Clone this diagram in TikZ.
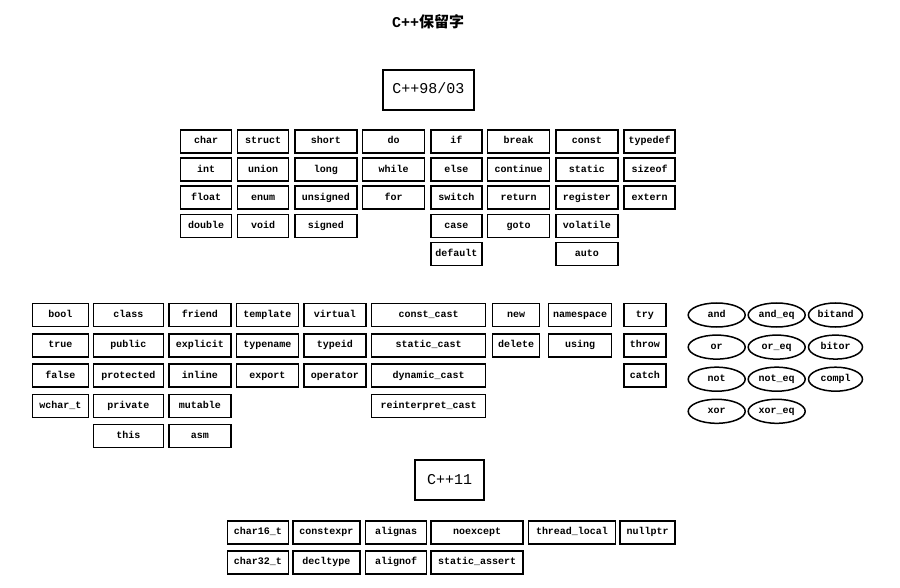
\documentclass[tikz,border=0pt]{standalone}
\usepackage{fontspec}
\usetikzlibrary{shapes.geometric}
\newfontfamily\kwfont{Liberation Mono}
\newfontfamily\cjk{Noto Sans CJK SC}

\tikzset{
  kwbox/.style={draw, line width=1.5pt, inner sep=0pt, minimum height=23pt,
    text height=7pt, text depth=2pt,
    font=\kwfont\bfseries\fontsize{10}{12}\selectfont},
  kwoval/.style={kwbox, ellipse, minimum height=24pt},
  stdbox/.style={draw, line width=1.5pt, inner sep=0pt, minimum height=40pt,
    text height=11pt, text depth=3pt,
    font=\kwfont\fontsize{15}{18}\selectfont}
}

\begin{document}
\begin{tikzpicture}[x=1pt,y=-1pt]
  \useasboundingbox (0,0) rectangle (900,588);

  % Title
  \node (title) at (428,22) {\fontsize{15}{17}\selectfont{\kwfont\bfseries C++}{\cjk\bfseries 保留字}};

  % C++98/03
  \node[stdbox, minimum width=91pt] (std98) at (428.5,90) {C++98/03};

  \def\topy{141.5}  % first row
  \def\topdy{28.1}  % row step
  \foreach \x/\w/\words [count=\c] in {
      206.2/51/{char,int,float,double},
      263.2/51/{struct,union,enum,void},
      325.8/62/{short,long,unsigned,signed},
      393.7/62/{do,while,for},
      456.3/51/{if,else,switch,case,default},
      518.7/62/{break,continue,return,goto},
      586.8/62/{const,static,register,volatile,auto},
      649.7/51/{typedef,sizeof,extern}} {
    \foreach \word [count=\r] in \words {
      \node[kwbox, minimum width=\w pt] (top-\c-\r) at (\x, \topy+\topdy*\r-\topdy) {\word};
    }
  }

  \def\midy{315}     % first row
  \def\middy{30.25}  % row step
  \foreach \x/\w/\words [count=\c] in {
      60.5/56/{bool,true,false,wchar\_t},
      128.3/70/{class,public,protected,private,this},
      199.8/62/{friend,explicit,inline,mutable,asm},
      267.5/62/{template,typename,export},
      334.8/62/{virtual,typeid,operator},
      428.7/114/{const\_cast,static\_cast,dynamic\_cast,reinterpret\_cast},
      516/47/{new,delete},
      580/63/{namespace,using},
      644.8/42/{try,throw,catch}} {
    \foreach \word [count=\r] in \words {
      \node[kwbox, minimum width=\w pt] (mid-\c-\r) at (\x, \midy+\middy*\r-\middy) {\word};
    }
  }

  % operator alternatives
  \def\ovaldy{32.1}
  \foreach \x/\w/\words [count=\c] in {
      716.7/57/{and,or,not,xor},
      776.7/57/{and\_eq,or\_eq,not\_eq,xor\_eq},
      835.5/54/{bitand,bitor,compl}} {
    \foreach \word [count=\r] in \words {
      \node[kwoval, minimum width=\w pt] (alt-\c-\r) at (\x, \midy+\ovaldy*\r-\ovaldy) {\word};
    }
  }

  % C++11
  \node[stdbox, minimum width=69pt] (std11) at (449.5,480) {C++11};

  \def\newy{532.3}
  \def\newdy{30}
  \foreach \x/\w/\words [count=\c] in {
      257.8/61/{char16\_t,char32\_t},
      326.3/67/{constexpr,decltype},
      396.2/61/{alignas,alignof},
      477.2/92/{noexcept,static\_assert},
      572/87/{thread\_local},
      647.5/55/{nullptr}} {
    \foreach \word [count=\r] in \words {
      \node[kwbox, minimum width=\w pt] (new-\c-\r) at (\x, \newy+\newdy*\r-\newdy) {\word};
    }
  }
\end{tikzpicture}
\end{document}
